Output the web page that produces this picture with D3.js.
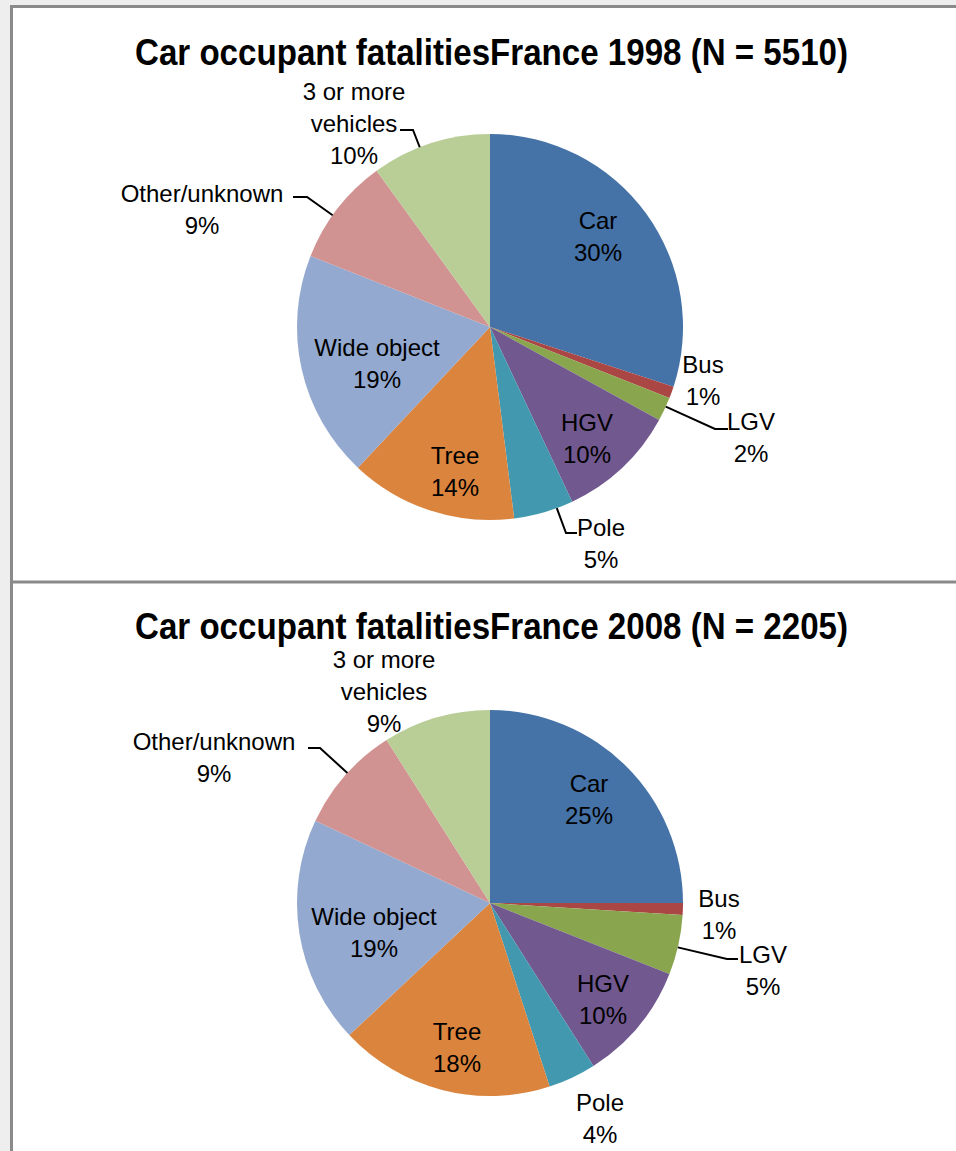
<!DOCTYPE html>
<html>
<head>
<meta charset="utf-8">
<script src="https://cdn.jsdelivr.net/npm/d3@7"></script>
<style>
  body { margin: 0; background: #eeeeee; }
  svg { display: block; }
  text { font-family: "Liberation Sans", Arial, sans-serif; fill: #000; }
</style>
</head>
<body>
<script>
// data
var categories = ['Car', 'Bus', 'LGV', 'HGV', 'Pole', 'Tree', 'Wide object', 'Other/unknown', '3 or more vehicles'];
var values1998 = [30, 1, 2, 10, 5, 14, 19, 9, 10];
var values2008 = [25, 1, 5, 10, 4, 18, 19, 9, 9];
var titles = ['Car occupant fatalitiesFrance 1998 (N = 5510)', 'Car occupant fatalitiesFrance 2008 (N = 2205)'];
var labelLines = {'3 or more vehicles': ['3 or more', 'vehicles']};

var colors = ['#4572A7', '#AA4643', '#89A54E', '#71588F', '#4198AF', '#DB843D', '#93A9CF', '#D19392', '#B9CD96'];

// label placement relative to pie centre: x = text centre, y = first baseline
// leader: elbow point and x where the short horizontal piece ends
var place1998 = {
  'Car': {x: 108, y: -98},
  'Bus': {x: 213, y: 46},
  'LGV': {x: 261, y: 103, leader: {ex: 225, ey: 102, hx: 238}},
  'HGV': {x: 97, y: 104},
  'Pole': {x: 111, y: 209, leader: {ex: 76, ey: 206, hx: 87}},
  'Tree': {x: -35, y: 137},
  'Wide object': {x: -113, y: 29},
  'Other/unknown': {x: -288, y: -125, leader: {ex: -183, ey: -130, hx: -197}},
  '3 or more vehicles': {x: -136, y: -227, leader: {ex: -77, ey: -197, hx: -90}}
};
var place2008 = {
  'Car': {x: 99, y: -111},
  'Bus': {x: 229, y: 4},
  'LGV': {x: 273, y: 60, leader: {ex: 237, ey: 56, hx: 248}},
  'HGV': {x: 113, y: 89},
  'Pole': {x: 110, y: 208},
  'Tree': {x: -33, y: 137},
  'Wide object': {x: -116, y: 22},
  'Other/unknown': {x: -276, y: -153, leader: {ex: -170, ey: -155, hx: -182}},
  '3 or more vehicles': {x: -106, y: -235}
};

var W = 956, H = 1151;
var svg = d3.select('body').append('svg')
    .attr('width', W)
    .attr('height', H);

// panels
svg.append('rect')
    .attr('x', 12).attr('y', 6)
    .attr('width', W - 12).attr('height', H - 6)
    .attr('fill', '#ffffff');

svg.append('line')
    .attr('x1', 11.5).attr('x2', 11.5)
    .attr('y1', 5).attr('y2', H)
    .attr('stroke', '#8a8a8a').attr('stroke-width', 3);
svg.append('line')
    .attr('x1', 10).attr('x2', W)
    .attr('y1', 6.5).attr('y2', 6.5)
    .attr('stroke', '#8a8a8a').attr('stroke-width', 3);
svg.append('line')
    .attr('x1', 10).attr('x2', W)
    .attr('y1', 582).attr('y2', 582)
    .attr('stroke', '#8a8a8a').attr('stroke-width', 3);

var R = 193;
var pie = d3.pie().sort(null).value(function(d) { return d; });
var arc = d3.arc().innerRadius(0).outerRadius(R);
var lineH = 32;

function drawPie(cx, cy, values, title, place, titleY) {
  svg.append('text')
      .attr('x', 491.5)
      .attr('y', titleY)
      .attr('text-anchor', 'middle')
      .attr('font-size', 37)
      .attr('font-weight', 'bold')
      .attr('textLength', 713)
      .attr('lengthAdjust', 'spacingAndGlyphs')
      .text(title);

  var g = svg.append('g').attr('transform', 'translate(' + cx + ',' + cy + ')');
  var arcs = pie(values);

  g.selectAll('path.slice')
      .data(arcs)
      .enter().append('path')
      .attr('class', 'slice')
      .attr('d', arc)
      .attr('fill', function(d, i) { return colors[i]; });

  arcs.forEach(function(a, i) {
    var cat = categories[i];
    var p = place[cat];
    var lines = (labelLines[cat] || [cat]).concat([values[i] + '%']);
    var t = g.append('text')
        .attr('text-anchor', 'middle')
        .attr('font-size', 24);
    lines.forEach(function(s, k) {
      t.append('tspan')
          .attr('x', p.x)
          .attr('y', p.y + k * lineH)
          .text(s);
    });
    if (p.leader) {
      var L = p.leader;
      var ang = Math.atan2(L.ex, -L.ey);
      if (ang < 0) ang += 2 * Math.PI;
      ang = Math.max(a.startAngle, Math.min(a.endAngle, ang));
      var sx = R * Math.sin(ang), sy = -R * Math.cos(ang);
      g.append('path')
          .attr('d', d3.line()([[sx, sy], [L.ex, L.ey], [L.hx, L.ey]]))
          .attr('fill', 'none')
          .attr('stroke', '#000')
          .attr('stroke-width', 2);
    }
  });
}

drawPie(490, 327, values1998, titles[0], place1998, 65);
drawPie(490, 903, values2008, titles[1], place2008, 639);
</script>
</body>
</html>
